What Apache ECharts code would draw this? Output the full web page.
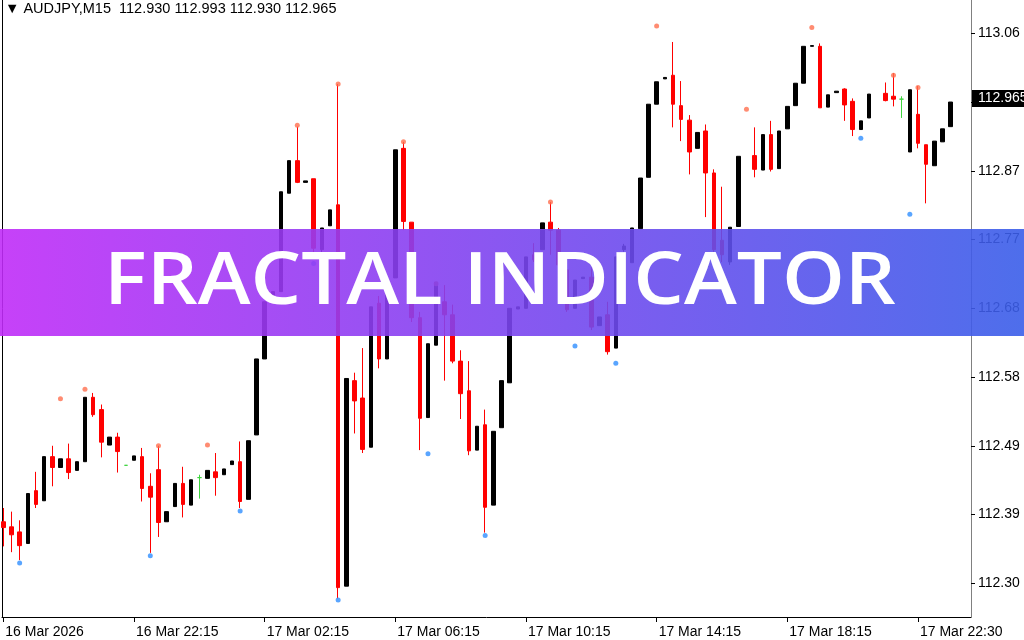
<!DOCTYPE html>
<html><head><meta charset="utf-8">
<script src="https://cdn.jsdelivr.net/npm/echarts@6/dist/echarts.min.js"></script>
<style>html,body{margin:0;padding:0;background:#fff}#c{width:1024px;height:640px}</style>
</head><body><div id="c"></div>
<script>
// OHLC per 15-minute bar (index = bar number); null = no visible candle
const opens = [112.385,112.378,112.371,112.355,112.428,112.414,112.475,112.460,112.472,112.456,
112.468,112.557,112.540,112.491,112.502,112.463,112.470,112.475,112.434,112.457,
112.385,112.406,112.438,112.408,112.446,112.445,112.454,112.450,112.464,112.468,
112.416,112.505,112.610,112.689,112.703,112.839,112.884,112.854,112.859,112.761,
112.794,112.823,112.296,112.580,112.556,112.488,112.687,112.610,112.722,112.901,
112.799,112.667,112.529,112.629,112.689,112.671,112.607,112.566,112.484,112.519,
112.408,112.515,112.577,112.679,112.680,112.754,112.761,112.799,112.788,112.733,
112.680,112.721,112.723,112.656,112.671,112.625,112.761,112.743,112.790,112.861,
112.962,112.997,113.002,112.960,112.940,112.901,112.925,112.867,112.774,112.744,
112.793,null,112.891,112.871,112.920,112.873,112.928,112.960,112.991,113.042,
113.042,112.958,112.978,112.983,112.966,112.927,112.943,null,112.977,112.973,
112.969,112.896,112.948,112.906,112.877,112.910,112.931];
const closes = [112.377,112.367,112.352,112.424,112.409,112.475,112.460,112.472,112.453,112.468,
112.557,112.533,112.495,112.502,112.482,112.463,112.476,112.431,112.419,112.384,
112.399,112.438,112.409,112.443,112.446,112.456,112.446,112.458,112.469,112.413,
112.497,112.610,112.689,112.703,112.841,112.884,112.854,112.856,112.763,112.791,
112.816,112.294,112.583,112.552,112.485,112.682,112.610,112.705,112.899,112.800,
112.667,112.528,112.631,112.716,112.671,112.607,112.562,112.483,112.517,112.405,
112.510,112.580,112.680,112.682,112.751,112.747,112.798,112.788,112.740,112.678,
112.719,112.723,112.654,112.668,112.620,112.751,112.766,112.791,112.860,112.962,
112.993,112.999,112.962,112.941,112.896,112.923,112.867,112.761,112.754,112.792,
112.890,null,112.872,112.920,112.872,112.925,112.959,112.991,113.042,113.043,
112.957,112.975,112.980,112.961,112.927,112.939,112.976,null,112.967,112.969,
112.969,112.982,112.908,112.879,112.911,112.928,112.965];
const lows = [112.351,112.343,112.332,112.355,112.404,112.414,112.434,112.460,112.444,112.456,
112.468,112.530,112.474,112.491,112.453,112.463,112.470,112.413,112.342,112.364,
112.385,112.406,112.391,112.408,112.417,112.445,112.421,112.450,112.464,112.404,
112.416,112.505,112.610,112.689,112.703,112.839,112.853,112.854,112.750,112.754,
112.794,112.279,112.296,112.507,112.480,112.488,112.597,112.610,112.722,112.788,
112.661,112.484,112.529,112.629,112.580,112.604,112.527,112.477,112.484,112.370,
112.408,112.515,112.577,112.679,112.680,112.744,112.761,112.754,112.736,112.675,
112.680,112.721,112.650,112.656,112.616,112.625,112.758,112.743,112.790,112.861,
112.962,112.997,112.930,112.911,112.865,112.901,112.806,112.754,112.744,112.740,
112.793,null,112.861,112.871,112.869,112.873,112.928,112.960,112.991,113.042,
112.957,112.958,112.978,112.939,112.918,112.927,112.943,null,112.966,112.959,
112.943,112.896,112.901,112.825,112.877,112.910,112.931];
const highs = [112.404,112.399,112.387,112.424,112.454,112.475,112.490,112.472,112.493,112.468,
112.557,112.563,112.547,112.502,112.508,112.463,112.476,112.487,112.452,112.490,
112.399,112.438,112.461,112.443,112.450,112.456,112.480,112.458,112.469,112.496,
112.497,112.610,112.689,112.703,112.841,112.884,112.931,112.856,112.859,112.791,
112.816,112.990,112.583,112.591,112.625,112.682,112.697,112.705,112.899,112.910,
112.799,112.675,112.631,112.716,112.712,112.685,112.622,112.607,112.517,112.540,
112.510,112.580,112.680,112.682,112.751,112.770,112.798,112.827,112.791,112.740,
112.719,112.723,112.736,112.668,112.689,112.751,112.769,112.791,112.860,112.962,
112.993,112.999,113.048,112.994,112.947,112.923,112.934,112.872,112.848,112.792,
112.890,null,112.930,112.920,112.939,112.925,112.959,112.991,113.042,113.043,
113.046,112.975,112.980,112.984,112.970,112.939,112.976,null,112.992,113.005,
112.973,112.982,112.987,112.906,112.911,112.928,112.965];

// Bill Williams fractals (bar index, price)
const upFractalIdx = [7,10,19,25,36,41,49,53,67,80,91,99,109,112];
const upFractalVal = [112.555,112.568,112.490,112.491,112.933,112.990,112.910,112.714,112.827,113.070,112.955,113.068,113.002,112.985];
const downFractalIdx = [2,18,29,38,41,52,59,70,75,105,111];
const downFractalVal = [112.328,112.338,112.400,112.742,112.277,112.479,112.366,112.628,112.604,112.915,112.810];

const xTickIdx = [0,16,32,48,64,80,96,112];
const xTickLabels = ['16 Mar 2026','16 Mar 22:15','17 Mar 02:15','17 Mar 06:15','17 Mar 10:15','17 Mar 14:15','17 Mar 18:15','17 Mar 22:30'];
const yTickVals = [112.300,112.395,112.490,112.585,112.680,112.775,112.870,112.965,113.060];
const yTickLabels = ['112.30','112.39','112.49','112.58','112.68','112.77','112.87','112.96','113.06'];
const lastPrice = 112.965;
const headerText = '\u25BC AUDJPY,M15  112.930 112.993 112.930 112.965';
const bannerText = 'FRACTAL INDICATOR';

const yMin = 112.2534, yMax = 113.106;
const xMin = -0.159, xMax = 118.49;

const candleData = [];
opens.forEach(function (o, i) {
  if (o == null) return;
  const item = { value: [i, o, closes[i], lows[i], highs[i]] };
  if (o === closes[i]) {
    item.itemStyle = { color: '#3fd43f', color0: '#3fd43f', borderColor: '#3fd43f', borderColor0: '#3fd43f' };
  }
  candleData.push(item);
});

function yLabel(v) {
  let best = 0;
  yTickVals.forEach(function (t, k) { if (Math.abs(t - v) < Math.abs(yTickVals[best] - v)) best = k; });
  return yTickLabels[best];
}
function xLabel(v) {
  let best = 0;
  xTickIdx.forEach(function (t, k) { if (Math.abs(t - v) < Math.abs(xTickIdx[best] - v)) best = k; });
  return xTickLabels[best];
}

const chart = echarts.init(document.getElementById('c'), null, { renderer: 'canvas' });
chart.setOption({
  animation: false,
  backgroundColor: '#ffffff',
  title: {
    text: headerText, left: 5, top: 1, padding: 0,
    textStyle: { fontSize: 14.5, fontWeight: 'normal', color: '#000', fontFamily: 'Liberation Sans' }
  },
  grid: { left: 2, right: 53, top: 0, bottom: 23, containLabel: false, outerBoundsMode: 'none' },
  xAxis: {
    type: 'value', min: xMin, max: xMax,
    splitLine: { show: false },
    axisLine: { show: true, onZero: false, lineStyle: { color: '#000', width: 1 } },
    axisTick: { show: true, customValues: xTickIdx, length: 5, lineStyle: { color: '#000' } },
    axisLabel: {
      show: true, customValues: xTickIdx, formatter: xLabel, align: 'left', margin: 8,
      padding: [0, 0, 0, 2], color: '#000', fontSize: 14, fontFamily: 'Liberation Sans', hideOverlap: false
    }
  },
  yAxis: [{
    type: 'value', position: 'right', min: yMin, max: yMax,
    splitLine: { show: false },
    axisLine: { show: true, onZero: false, lineStyle: { color: '#808080', width: 1 } },
    axisTick: { show: true, customValues: yTickVals, length: 4, lineStyle: { color: '#000' } },
    axisLabel: { show: true, customValues: yTickVals, formatter: yLabel, margin: 7, color: '#000', fontSize: 14, fontFamily: 'Liberation Sans' }
  }, {
    type: 'value', position: 'left', min: yMin, max: yMax,
    splitLine: { show: false },
    axisLine: { show: true, onZero: false, lineStyle: { color: '#000', width: 1 } },
    axisTick: { show: false }, axisLabel: { show: false }
  }],
  series: [{
    type: 'candlestick', yAxisIndex: 0, data: candleData, barWidth: 4, z: 3,
    itemStyle: { color: '#000000', color0: '#ff0000', borderColor: '#000000', borderColor0: '#ff0000', borderWidth: 1 },
    markLine: {
      silent: true, symbol: 'none', animation: false,
      lineStyle: { color: 'rgba(0,0,0,0)', width: 0 },
      label: {
        show: true, position: 'end', distance: 1, formatter: lastPrice.toFixed(3),
        color: '#ffffff', backgroundColor: '#000000', padding: [2, 2, 1, 6],
        fontSize: 14, fontFamily: 'Liberation Sans'
      },
      data: [{ yAxis: lastPrice }]
    }
  }, {
    type: 'scatter', yAxisIndex: 0, z: 4, symbol: 'circle', symbolSize: 5,
    itemStyle: { color: '#ff6f4f' },
    data: upFractalIdx.map(function (x, k) { return [x, upFractalVal[k]]; })
  }, {
    type: 'scatter', yAxisIndex: 0, z: 4, symbol: 'circle', symbolSize: 5,
    itemStyle: { color: '#2f8fff' },
    data: downFractalIdx.map(function (x, k) { return [x, downFractalVal[k]]; })
  }],
  graphic: [{
    type: 'rect', left: 0, top: 229, z: 100,
    shape: { width: 1024, height: 107 },
    style: {
      fill: new echarts.graphic.LinearGradient(0, 0, 1, 0, [
        { offset: 0, color: '#c02cf8' }, { offset: 0.5, color: '#7b45ef' }, { offset: 1, color: '#3a5ee9' }
      ]),
      opacity: 0.9
    }
  }, {
    type: 'text', x: 500, y: 283, z: 101, scaleX: 1.11,
    style: {
      text: bannerText, fill: '#ffffff', align: 'center', verticalAlign: 'middle',
      font: '600 72px "Open Sans"'
    }
  }]
});
</script>
</body></html>
